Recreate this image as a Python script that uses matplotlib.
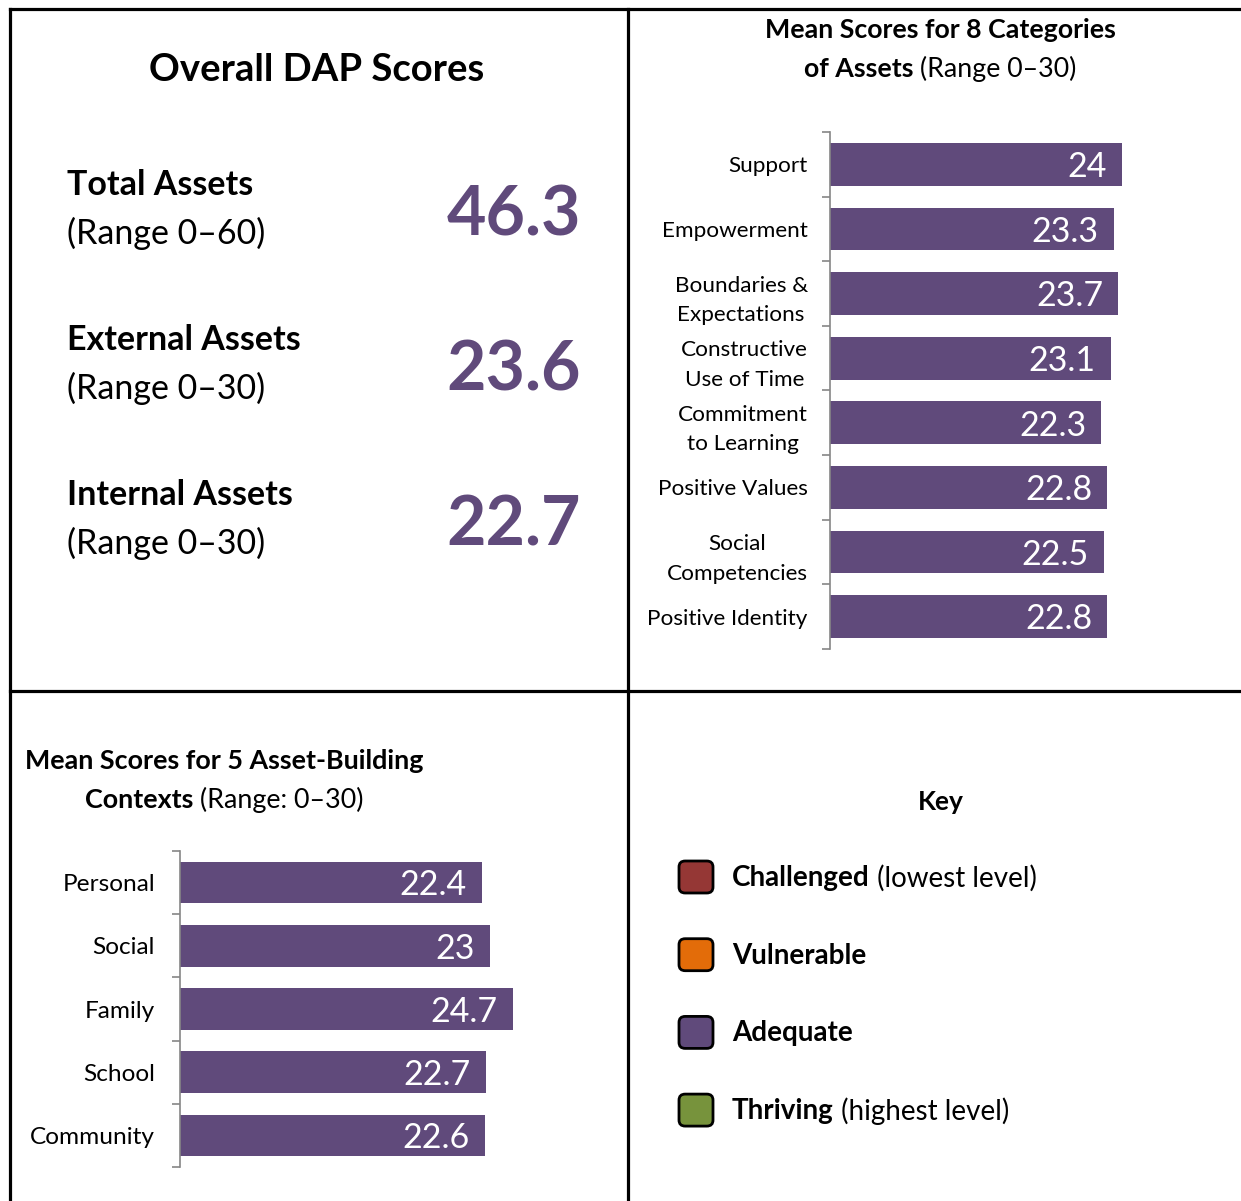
import matplotlib
matplotlib.use("Agg")
import matplotlib.pyplot as plt
from matplotlib.patches import FancyBboxPatch
from matplotlib.lines import Line2D

plt.rcParams["font.family"] = ["Lato", "DejaVu Sans"]

# data
overall_labels = ["Total Assets", "External Assets", "Internal Assets"]
overall_ranges = ["(Range 0\u201360)", "(Range 0\u201330)", "(Range 0\u201330)"]
overall_values = [46.3, 23.6, 22.7]

category_names = ["Support", "Empowerment", "Boundaries &\nExpectations",
                  "Constructive\nUse of Time", "Commitment\nto Learning",
                  "Positive Values", "Social\nCompetencies", "Positive Identity"]
category_values = [24, 23.3, 23.7, 23.1, 22.3, 22.8, 22.5, 22.8]

context_names = ["Personal", "Social", "Family", "School", "Community"]
context_values = [22.4, 23, 24.7, 22.7, 22.6]

key_levels = ["Challenged", "Vulnerable", "Adequate", "Thriving"]
key_notes = [" (lowest level)", "", "", " (highest level)"]
key_colors = ["#953735", "#E36C09", "#604A7B", "#77933C"]

PURPLE = "#604A7B"
W, H = 1241, 1201

fig = plt.figure(figsize=(W / 100, H / 100), dpi=100)


def fx(px):
    return px / W


def fy(py):
    return 1 - py / H


# panel grid lines
lw = 2.3
for xs, ys in [((10, 10), (9, H)), ((10, W), (9, 9)), ((628, 628), (9, H)), ((10, W), (691, 691))]:
    fig.add_artist(Line2D([fx(x) for x in xs], [fy(y) for y in ys], color="black", lw=lw))

renderer = fig.canvas.get_renderer()


def mixed(x, y, parts, size, ha="left"):
    # bold + normal pieces on one line; x, y in pixels
    widths = []
    for txt, wt in parts:
        t = fig.text(0, 0, txt, fontsize=size, fontweight=wt)
        widths.append(t.get_window_extent(renderer).width)
        t.remove()
    start = x - sum(widths) / 2 if ha == "center" else x
    for (txt, wt), w in zip(parts, widths):
        fig.text(fx(start), fy(y), txt, fontsize=size, fontweight=wt, va="center", ha="left")
        start += w


# top-left panel
fig.text(fx(317), fy(70), "Overall DAP Scores", fontsize=27.5, fontweight="bold", ha="center", va="center")
for i, (lab, rng, val) in enumerate(zip(overall_labels, overall_ranges, overall_values)):
    y0 = 185 + i * 155
    fig.text(fx(67), fy(y0), lab, fontsize=24.5, fontweight="bold", va="center")
    fig.text(fx(67), fy(y0 + 48), rng, fontsize=24.5, va="center")
    fig.text(fx(581), fy(y0 + 31), f"{val}", fontsize=49, fontweight="bold", color=PURPLE,
             ha="right", va="center")


def bar_panel(rect, names, values, label_size, pad):
    ax = fig.add_axes(rect)
    n = len(names)
    pos = list(range(n))
    ax.barh(pos, values, height=0.66, color=PURPLE)
    ax.set_xlim(0, 30)
    ax.set_ylim(n - 0.5, -0.5)
    ax.set_yticks(pos)
    ax.set_yticklabels(names, fontsize=label_size, ha="right", multialignment="center",
                       linespacing=1.6)
    ax.set_yticks([p - 0.5 for p in pos] + [n - 0.5], minor=True)
    ax.tick_params(axis="y", which="major", length=0, pad=pad)
    ax.tick_params(axis="y", which="minor", length=6, color="#868686", width=1.2)
    ax.set_xticks([])
    for s in ["top", "right", "bottom"]:
        ax.spines[s].set_visible(False)
    ax.spines["left"].set_color("#868686")
    ax.spines["left"].set_linewidth(1.2)
    for p, v in zip(pos, values):
        ax.annotate(f"{v:g}", (v, p), xytext=(-11, -2), textcoords="offset points",
                    ha="right", va="center", color="white", fontsize=24.5)
    ax.patch.set_alpha(0)
    return ax


# top-right panel
fig.text(fx(940), fy(30), "Mean Scores for 8 Categories", fontsize=19.3, fontweight="bold",
         ha="center", va="center")
mixed(940, 69, [("of Assets", "bold"), (" (Range 0\u201330)", "normal")], 19.3, ha="center")
bar_panel([fx(830), fy(649), 30 * 12.17 / W, 517 / H], category_names, category_values, 16.2, 16)

# bottom-left panel
fig.text(fx(25), fy(761), "Mean Scores for 5 Asset-Building", fontsize=19.4, fontweight="bold", va="center")
mixed(85, 800, [("Contexts", "bold"), (" (Range: 0\u201330)", "normal")], 19.4)
bar_panel([fx(180), fy(1167), 30 * 13.48 / W, 316 / H], context_names, context_values, 17.6, 18)

# bottom-right key
fig.text(fx(941), fy(802), "Key", fontsize=19, fontweight="bold", ha="center", va="center")
for i, (lvl, note, col) in enumerate(zip(key_levels, key_notes, key_colors)):
    yc = 877 + i * 77.7
    box = FancyBboxPatch((fx(679), fy(yc + 16)), fx(34), 32 / H,
                         boxstyle="round,pad=0,rounding_size=0.005",
                         transform=fig.transFigure, facecolor=col, edgecolor="black", lw=2)
    fig.add_artist(box)
    mixed(732, yc + 1, [(lvl, "bold"), (note, "normal")], 20)

fig.savefig("out.png", dpi=100)
